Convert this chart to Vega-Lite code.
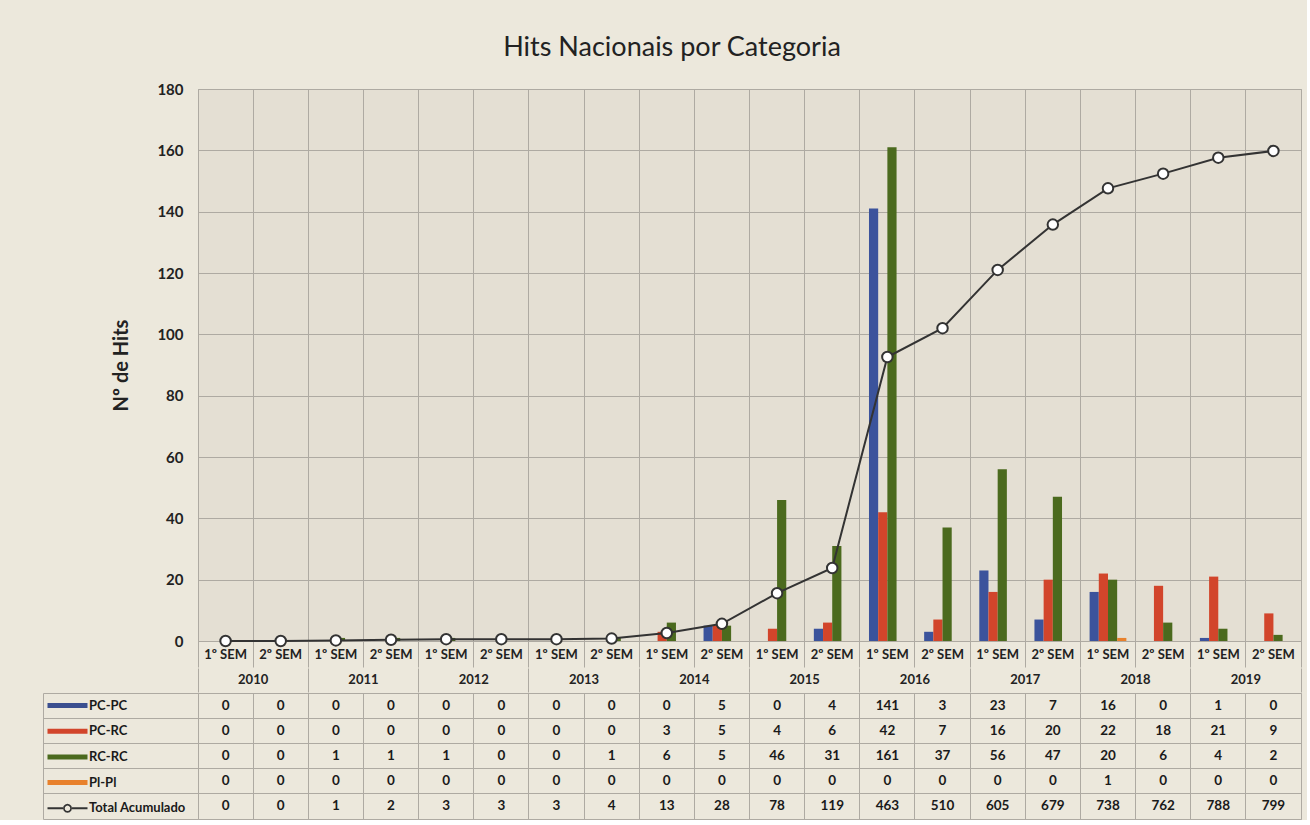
{
  "$schema": "https://vega.github.io/schema/vega-lite/v6.json",
  "background": "#ece8dc",
  "padding": {"left": 42, "top": 33, "right": 5, "bottom": 0},
  "title": {"text": "Hits Nacionais por Categoria", "font": "Lato", "fontSize": 27, "fontWeight": "normal", "color": "#222222", "anchor": "middle", "offset": 20},
  "datasets": {
    "hits": [
      {"periodo": "2010-1", "ano": "2010", "sem": 1, "cat": "PC-PC", "valor": 0},
      {"periodo": "2010-2", "ano": "2010", "sem": 2, "cat": "PC-PC", "valor": 0},
      {"periodo": "2011-1", "ano": "2011", "sem": 1, "cat": "PC-PC", "valor": 0},
      {"periodo": "2011-2", "ano": "2011", "sem": 2, "cat": "PC-PC", "valor": 0},
      {"periodo": "2012-1", "ano": "2012", "sem": 1, "cat": "PC-PC", "valor": 0},
      {"periodo": "2012-2", "ano": "2012", "sem": 2, "cat": "PC-PC", "valor": 0},
      {"periodo": "2013-1", "ano": "2013", "sem": 1, "cat": "PC-PC", "valor": 0},
      {"periodo": "2013-2", "ano": "2013", "sem": 2, "cat": "PC-PC", "valor": 0},
      {"periodo": "2014-1", "ano": "2014", "sem": 1, "cat": "PC-PC", "valor": 0},
      {"periodo": "2014-2", "ano": "2014", "sem": 2, "cat": "PC-PC", "valor": 5},
      {"periodo": "2015-1", "ano": "2015", "sem": 1, "cat": "PC-PC", "valor": 0},
      {"periodo": "2015-2", "ano": "2015", "sem": 2, "cat": "PC-PC", "valor": 4},
      {"periodo": "2016-1", "ano": "2016", "sem": 1, "cat": "PC-PC", "valor": 141},
      {"periodo": "2016-2", "ano": "2016", "sem": 2, "cat": "PC-PC", "valor": 3},
      {"periodo": "2017-1", "ano": "2017", "sem": 1, "cat": "PC-PC", "valor": 23},
      {"periodo": "2017-2", "ano": "2017", "sem": 2, "cat": "PC-PC", "valor": 7},
      {"periodo": "2018-1", "ano": "2018", "sem": 1, "cat": "PC-PC", "valor": 16},
      {"periodo": "2018-2", "ano": "2018", "sem": 2, "cat": "PC-PC", "valor": 0},
      {"periodo": "2019-1", "ano": "2019", "sem": 1, "cat": "PC-PC", "valor": 1},
      {"periodo": "2019-2", "ano": "2019", "sem": 2, "cat": "PC-PC", "valor": 0},
      {"periodo": "2010-1", "ano": "2010", "sem": 1, "cat": "PC-RC", "valor": 0},
      {"periodo": "2010-2", "ano": "2010", "sem": 2, "cat": "PC-RC", "valor": 0},
      {"periodo": "2011-1", "ano": "2011", "sem": 1, "cat": "PC-RC", "valor": 0},
      {"periodo": "2011-2", "ano": "2011", "sem": 2, "cat": "PC-RC", "valor": 0},
      {"periodo": "2012-1", "ano": "2012", "sem": 1, "cat": "PC-RC", "valor": 0},
      {"periodo": "2012-2", "ano": "2012", "sem": 2, "cat": "PC-RC", "valor": 0},
      {"periodo": "2013-1", "ano": "2013", "sem": 1, "cat": "PC-RC", "valor": 0},
      {"periodo": "2013-2", "ano": "2013", "sem": 2, "cat": "PC-RC", "valor": 0},
      {"periodo": "2014-1", "ano": "2014", "sem": 1, "cat": "PC-RC", "valor": 3},
      {"periodo": "2014-2", "ano": "2014", "sem": 2, "cat": "PC-RC", "valor": 5},
      {"periodo": "2015-1", "ano": "2015", "sem": 1, "cat": "PC-RC", "valor": 4},
      {"periodo": "2015-2", "ano": "2015", "sem": 2, "cat": "PC-RC", "valor": 6},
      {"periodo": "2016-1", "ano": "2016", "sem": 1, "cat": "PC-RC", "valor": 42},
      {"periodo": "2016-2", "ano": "2016", "sem": 2, "cat": "PC-RC", "valor": 7},
      {"periodo": "2017-1", "ano": "2017", "sem": 1, "cat": "PC-RC", "valor": 16},
      {"periodo": "2017-2", "ano": "2017", "sem": 2, "cat": "PC-RC", "valor": 20},
      {"periodo": "2018-1", "ano": "2018", "sem": 1, "cat": "PC-RC", "valor": 22},
      {"periodo": "2018-2", "ano": "2018", "sem": 2, "cat": "PC-RC", "valor": 18},
      {"periodo": "2019-1", "ano": "2019", "sem": 1, "cat": "PC-RC", "valor": 21},
      {"periodo": "2019-2", "ano": "2019", "sem": 2, "cat": "PC-RC", "valor": 9},
      {"periodo": "2010-1", "ano": "2010", "sem": 1, "cat": "RC-RC", "valor": 0},
      {"periodo": "2010-2", "ano": "2010", "sem": 2, "cat": "RC-RC", "valor": 0},
      {"periodo": "2011-1", "ano": "2011", "sem": 1, "cat": "RC-RC", "valor": 1},
      {"periodo": "2011-2", "ano": "2011", "sem": 2, "cat": "RC-RC", "valor": 1},
      {"periodo": "2012-1", "ano": "2012", "sem": 1, "cat": "RC-RC", "valor": 1},
      {"periodo": "2012-2", "ano": "2012", "sem": 2, "cat": "RC-RC", "valor": 0},
      {"periodo": "2013-1", "ano": "2013", "sem": 1, "cat": "RC-RC", "valor": 0},
      {"periodo": "2013-2", "ano": "2013", "sem": 2, "cat": "RC-RC", "valor": 1},
      {"periodo": "2014-1", "ano": "2014", "sem": 1, "cat": "RC-RC", "valor": 6},
      {"periodo": "2014-2", "ano": "2014", "sem": 2, "cat": "RC-RC", "valor": 5},
      {"periodo": "2015-1", "ano": "2015", "sem": 1, "cat": "RC-RC", "valor": 46},
      {"periodo": "2015-2", "ano": "2015", "sem": 2, "cat": "RC-RC", "valor": 31},
      {"periodo": "2016-1", "ano": "2016", "sem": 1, "cat": "RC-RC", "valor": 161},
      {"periodo": "2016-2", "ano": "2016", "sem": 2, "cat": "RC-RC", "valor": 37},
      {"periodo": "2017-1", "ano": "2017", "sem": 1, "cat": "RC-RC", "valor": 56},
      {"periodo": "2017-2", "ano": "2017", "sem": 2, "cat": "RC-RC", "valor": 47},
      {"periodo": "2018-1", "ano": "2018", "sem": 1, "cat": "RC-RC", "valor": 20},
      {"periodo": "2018-2", "ano": "2018", "sem": 2, "cat": "RC-RC", "valor": 6},
      {"periodo": "2019-1", "ano": "2019", "sem": 1, "cat": "RC-RC", "valor": 4},
      {"periodo": "2019-2", "ano": "2019", "sem": 2, "cat": "RC-RC", "valor": 2},
      {"periodo": "2010-1", "ano": "2010", "sem": 1, "cat": "Pl-Pl", "valor": 0},
      {"periodo": "2010-2", "ano": "2010", "sem": 2, "cat": "Pl-Pl", "valor": 0},
      {"periodo": "2011-1", "ano": "2011", "sem": 1, "cat": "Pl-Pl", "valor": 0},
      {"periodo": "2011-2", "ano": "2011", "sem": 2, "cat": "Pl-Pl", "valor": 0},
      {"periodo": "2012-1", "ano": "2012", "sem": 1, "cat": "Pl-Pl", "valor": 0},
      {"periodo": "2012-2", "ano": "2012", "sem": 2, "cat": "Pl-Pl", "valor": 0},
      {"periodo": "2013-1", "ano": "2013", "sem": 1, "cat": "Pl-Pl", "valor": 0},
      {"periodo": "2013-2", "ano": "2013", "sem": 2, "cat": "Pl-Pl", "valor": 0},
      {"periodo": "2014-1", "ano": "2014", "sem": 1, "cat": "Pl-Pl", "valor": 0},
      {"periodo": "2014-2", "ano": "2014", "sem": 2, "cat": "Pl-Pl", "valor": 0},
      {"periodo": "2015-1", "ano": "2015", "sem": 1, "cat": "Pl-Pl", "valor": 0},
      {"periodo": "2015-2", "ano": "2015", "sem": 2, "cat": "Pl-Pl", "valor": 0},
      {"periodo": "2016-1", "ano": "2016", "sem": 1, "cat": "Pl-Pl", "valor": 0},
      {"periodo": "2016-2", "ano": "2016", "sem": 2, "cat": "Pl-Pl", "valor": 0},
      {"periodo": "2017-1", "ano": "2017", "sem": 1, "cat": "Pl-Pl", "valor": 0},
      {"periodo": "2017-2", "ano": "2017", "sem": 2, "cat": "Pl-Pl", "valor": 0},
      {"periodo": "2018-1", "ano": "2018", "sem": 1, "cat": "Pl-Pl", "valor": 1},
      {"periodo": "2018-2", "ano": "2018", "sem": 2, "cat": "Pl-Pl", "valor": 0},
      {"periodo": "2019-1", "ano": "2019", "sem": 1, "cat": "Pl-Pl", "valor": 0},
      {"periodo": "2019-2", "ano": "2019", "sem": 2, "cat": "Pl-Pl", "valor": 0},
      {"periodo": "2010-1", "ano": "2010", "sem": 1, "cat": "Total Acumulado", "valor": 0},
      {"periodo": "2010-2", "ano": "2010", "sem": 2, "cat": "Total Acumulado", "valor": 0},
      {"periodo": "2011-1", "ano": "2011", "sem": 1, "cat": "Total Acumulado", "valor": 1},
      {"periodo": "2011-2", "ano": "2011", "sem": 2, "cat": "Total Acumulado", "valor": 2},
      {"periodo": "2012-1", "ano": "2012", "sem": 1, "cat": "Total Acumulado", "valor": 3},
      {"periodo": "2012-2", "ano": "2012", "sem": 2, "cat": "Total Acumulado", "valor": 3},
      {"periodo": "2013-1", "ano": "2013", "sem": 1, "cat": "Total Acumulado", "valor": 3},
      {"periodo": "2013-2", "ano": "2013", "sem": 2, "cat": "Total Acumulado", "valor": 4},
      {"periodo": "2014-1", "ano": "2014", "sem": 1, "cat": "Total Acumulado", "valor": 13},
      {"periodo": "2014-2", "ano": "2014", "sem": 2, "cat": "Total Acumulado", "valor": 28},
      {"periodo": "2015-1", "ano": "2015", "sem": 1, "cat": "Total Acumulado", "valor": 78},
      {"periodo": "2015-2", "ano": "2015", "sem": 2, "cat": "Total Acumulado", "valor": 119},
      {"periodo": "2016-1", "ano": "2016", "sem": 1, "cat": "Total Acumulado", "valor": 463},
      {"periodo": "2016-2", "ano": "2016", "sem": 2, "cat": "Total Acumulado", "valor": 510},
      {"periodo": "2017-1", "ano": "2017", "sem": 1, "cat": "Total Acumulado", "valor": 605},
      {"periodo": "2017-2", "ano": "2017", "sem": 2, "cat": "Total Acumulado", "valor": 679},
      {"periodo": "2018-1", "ano": "2018", "sem": 1, "cat": "Total Acumulado", "valor": 738},
      {"periodo": "2018-2", "ano": "2018", "sem": 2, "cat": "Total Acumulado", "valor": 762},
      {"periodo": "2019-1", "ano": "2019", "sem": 1, "cat": "Total Acumulado", "valor": 788},
      {"periodo": "2019-2", "ano": "2019", "sem": 2, "cat": "Total Acumulado", "valor": 799}
    ]
  },
  "data": {"name": "hits"},
  "config": {
    "font": "Lato",
    "view": {"stroke": null},
    "axis": {"labelFont": "Lato", "titleFont": "Lato"}
  },
  "spacing": 0,
  "resolve": {"scale": {"color": "independent"}, "legend": {"color": "independent"}},
  "vconcat": [
    {
      "width": 1103,
      "height": 552,
      "view": {"fill": "#e4dfd3", "stroke": "#aeaaa2"},
      "resolve": {"scale": {"y": "independent"}},
      "layer": [
        {
          "transform": [{"filter": "datum.cat !== 'Total Acumulado'"}],
          "mark": {"type": "bar"},
          "encoding": {
            "x": {
              "field": "periodo", "type": "nominal", "sort": null,
              "scale": {"type": "band", "paddingInner": 0, "paddingOuter": 0},
              "axis": {
                "title": null, "labelAngle": 0,
                "labelExpr": "datum.label == '' || datum.value == null ? '' : (indexof(datum.label, '-1') >= 0 ? '1º SEM' : '2º SEM')",
                "labelFontWeight": "bold", "labelFontSize": 13, "labelColor": "#222222",
                "labelBaseline": "middle", "labelPadding": -13,
                "bandPosition": 1, "tickExtra": true, "tickSize": 26, "tickColor": "#aeaaa2",
                "grid": true, "gridColor": "#aeaaa2", "domain": false
              }
            },
            "xOffset": {
              "field": "cat", "type": "nominal",
              "scale": {"domain": ["PC-PC", "PC-RC", "RC-RC", "Pl-Pl"], "paddingInner": 0, "paddingOuter": 1.32}
            },
            "y": {
              "field": "valor", "type": "quantitative",
              "scale": {"domain": [0, 180], "nice": false},
              "axis": {
                "title": "Nº de Hits", "titleFontSize": 20, "titleFontWeight": "bold", "titleColor": "#222222", "titlePadding": 25,
                "values": [0, 20, 40, 60, 80, 100, 120, 140, 160, 180],
                "labelFontSize": 15, "labelFontWeight": "bold", "labelColor": "#222222", "labelPadding": 15,
                "ticks": false, "domain": false, "grid": true, "gridColor": "#aeaaa2"
              }
            },
            "color": {
              "field": "cat", "type": "nominal",
              "scale": {"domain": ["PC-PC", "PC-RC", "RC-RC", "Pl-Pl"], "range": ["#3b539c", "#d2452b", "#4b6a1e", "#e8812c"]},
              "legend": null
            }
          }
        },
        {
          "transform": [{"filter": "datum.cat === 'Total Acumulado'"}],
          "mark": {"type": "line", "color": "#333333", "strokeWidth": 2},
          "encoding": {
            "x": {"field": "periodo", "type": "nominal", "sort": null},
            "y": {"field": "valor", "type": "quantitative", "scale": {"domain": [0, 900], "nice": false}, "axis": null}
          }
        },
        {
          "transform": [{"filter": "datum.cat === 'Total Acumulado'"}],
          "mark": {"type": "point", "filled": true, "fill": "#ffffff", "stroke": "#333333", "strokeWidth": 2, "size": 110, "opacity": 1},
          "encoding": {
            "x": {"field": "periodo", "type": "nominal", "sort": null},
            "y": {"field": "valor", "type": "quantitative", "scale": {"domain": [0, 900], "nice": false}, "axis": null}
          }
        }
      ]
    },
    {
      "width": 1103,
      "height": 24,
      "transform": [{"filter": "datum.cat === 'PC-PC' && datum.sem === 1"}],
      "mark": {"type": "text", "font": "Lato", "fontWeight": "bold", "fontSize": 13, "color": "#222222"},
      "encoding": {
        "x": {
          "field": "ano", "type": "nominal", "sort": null,
          "scale": {"type": "band", "paddingInner": 0, "paddingOuter": 0},
          "axis": {"title": null, "labels": false, "ticks": false, "domain": false, "grid": true, "gridColor": "#aeaaa2", "bandPosition": 1, "tickExtra": true}
        },
        "text": {"field": "ano", "type": "nominal"}
      }
    },
    {
      "width": 1103,
      "height": 126,
      "view": {"stroke": "#aeaaa2"},
      "layer": [
        {
          "mark": {"type": "text", "font": "Lato", "fontWeight": "bold", "fontSize": 13.5, "color": "#1a1a1a"},
          "encoding": {
            "x": {
              "field": "periodo", "type": "nominal", "sort": null,
              "scale": {"type": "band", "paddingInner": 0, "paddingOuter": 0},
              "axis": {"title": null, "labels": false, "ticks": false, "domain": false, "grid": true, "gridColor": "#aeaaa2", "bandPosition": 0}
            },
            "y": {
              "field": "cat", "type": "nominal",
              "sort": ["PC-PC", "PC-RC", "RC-RC", "Pl-Pl", "Total Acumulado"],
              "scale": {"type": "band", "paddingInner": 0, "paddingOuter": 0},
              "axis": {"title": null, "labels": false, "domain": true, "domainColor": "#aeaaa2", "offset": 155, "tickSize": -155, "ticks": true, "tickColor": "#aeaaa2", "grid": true, "gridColor": "#aeaaa2", "bandPosition": 1, "tickExtra": true}
            },
            "text": {"field": "valor", "type": "quantitative"}
          }
        },
        {
          "mark": {"type": "point", "filled": true, "opacity": 0},
          "encoding": {
            "y": {
              "field": "cat", "type": "nominal",
              "sort": ["PC-PC", "PC-RC", "RC-RC", "Pl-Pl", "Total Acumulado"],
              "scale": {"type": "band", "paddingInner": 0, "paddingOuter": 0},
              "axis": {"title": null, "labels": false, "domain": true, "domainColor": "#aeaaa2", "offset": 155, "tickSize": -155, "ticks": true, "tickColor": "#aeaaa2", "grid": true, "gridColor": "#aeaaa2", "bandPosition": 1, "tickExtra": true}
            },
            "color": {
              "field": "cat", "type": "nominal",
              "scale": {"domain": ["PC-PC", "PC-RC", "RC-RC", "Pl-Pl", "Total Acumulado"], "range": ["#3b4f8f", "#d2452b", "#4b6a1e", "#e8812c", "#333333"]},
              "legend": {
                "orient": "none", "legendX": -137, "legendY": 6, "title": null, "padding": 0,
                "rowPadding": 11.7, "labelFont": "Lato", "labelFontWeight": "bold", "labelFontSize": 13,
                "labelColor": "#1a1a1a", "labelOffset": 15, "labelLimit": 200,
                "symbolSize": 100, "symbolOpacity": 1, "symbolStrokeWidth": 0,
                "encode": {
                  "symbols": {
                    "update": {
                      "shape": {"signal": "datum.value === 'Total Acumulado' ? 'M-4,-0.2H-0.9V0.2H-4Z M0.9,-0.2H4V0.2H0.9Z M0.9,0L0.78,0.45L0.45,0.78L0,0.9L-0.45,0.78L-0.78,0.45L-0.9,0L-0.78,-0.45L-0.45,-0.78L0,-0.9L0.45,-0.78L0.78,-0.45Z M0.55,0L0.48,-0.28L0.28,-0.48L0,-0.55L-0.28,-0.48L-0.48,-0.28L-0.55,0L-0.48,0.28L-0.28,0.48L0,0.55L0.28,0.48L0.48,0.28Z' : 'M-4,-0.5H4V0.5H-4Z'"},
                      "opacity": {"value": 1}
                    }
                  }
                }
              }
            }
          }
        }
      ]
    }
  ]
}
